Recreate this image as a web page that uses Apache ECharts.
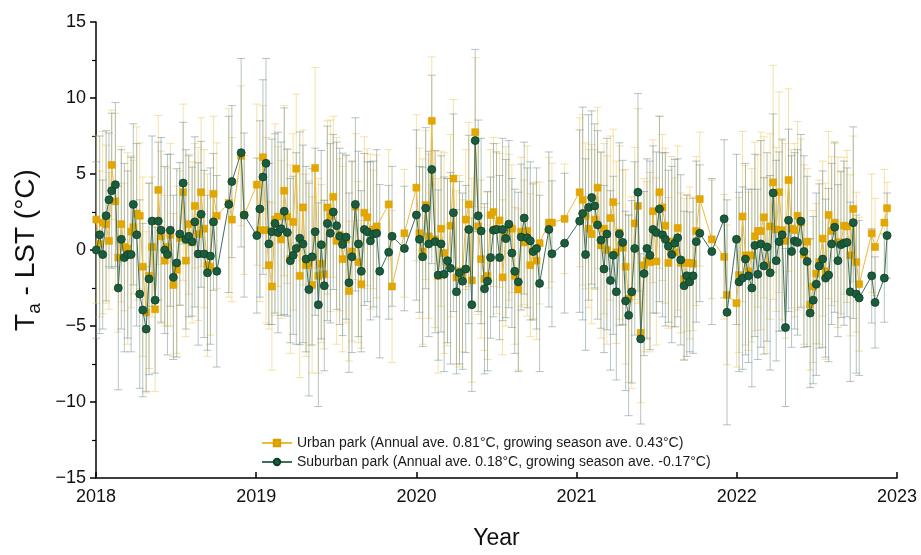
<!DOCTYPE html>
<html>
<head>
<meta charset="utf-8">
<script src="https://cdn.jsdelivr.net/npm/echarts@6/dist/echarts.min.js"></script>
<style>html,body{margin:0;padding:0;background:#fff}#c{width:921px;height:555px}</style>
</head>
<body>
<div id="c"></div>
<script>
// Observation dates (decimal years)
const dates = [
2018.002,2018.023,2018.042,2018.063,2018.081,2018.098,2018.121,2018.139,2018.158,2018.177,
2018.198,2018.219,2018.233,2018.254,2018.273,2018.292,2018.313,2018.331,2018.350,2018.369,
2018.389,2018.406,2018.429,2018.446,2018.464,2018.483,2018.504,2018.523,2018.544,2018.561,
2018.579,2018.600,2018.617,2018.638,2018.656,2018.675,2018.696,2018.714,2018.733,2018.754,
2018.829,2018.848,2018.906,2018.925,2019.004,2019.023,2019.042,2019.061,2019.079,2019.098,
2019.117,2019.136,2019.156,2019.175,2019.194,2019.213,2019.231,2019.250,2019.272,2019.292,
2019.311,2019.329,2019.349,2019.368,2019.388,2019.406,2019.425,2019.444,2019.463,2019.481,
2019.502,2019.521,2019.539,2019.561,2019.579,2019.598,2019.619,2019.638,2019.656,2019.675,
2019.694,2019.713,2019.731,2019.752,2019.771,2019.827,2019.848,2019.925,2020.000,2020.019,
2020.039,2020.058,2020.077,2020.096,2020.117,2020.136,2020.154,2020.173,2020.194,2020.213,
2020.231,2020.250,2020.269,2020.288,2020.308,2020.327,2020.346,2020.367,2020.386,2020.404,
2020.425,2020.444,2020.463,2020.481,2020.500,2020.519,2020.538,2020.558,2020.577,2020.596,
2020.614,2020.636,2020.654,2020.673,2020.692,2020.711,2020.729,2020.750,2020.769,2020.827,
2020.846,2020.925,2021.019,2021.038,2021.056,2021.075,2021.094,2021.113,2021.131,2021.152,
2021.171,2021.189,2021.211,2021.229,2021.248,2021.267,2021.288,2021.306,2021.325,2021.344,
2021.363,2021.383,2021.400,2021.421,2021.439,2021.458,2021.477,2021.498,2021.517,2021.536,
2021.554,2021.573,2021.594,2021.613,2021.631,2021.650,2021.671,2021.688,2021.706,2021.727,
2021.747,2021.769,2021.844,2021.921,2021.939,2021.998,2022.014,2022.036,2022.054,2022.073,
2022.094,2022.113,2022.131,2022.150,2022.169,2022.189,2022.208,2022.227,2022.246,2022.264,
2022.283,2022.304,2022.323,2022.342,2022.361,2022.379,2022.400,2022.419,2022.439,2022.458,
2022.477,2022.496,2022.514,2022.536,2022.554,2022.573,2022.592,2022.611,2022.631,2022.650,
2022.669,2022.688,2022.708,2022.727,2022.746,2022.764,2022.842,2022.863,2022.921,2022.938
];
// Urban park Ta - LST (°C)
const urban = [
2.0,0.4,1.8,1.7,0.6,5.6,3.2,-0.5,1.7,0.2,
0.1,1.2,1.5,2.4,2.25,-1.1,-4.1,-1.7,0.2,-3.9,
3.95,0.9,-0.7,0.2,1.0,-2.3,-1.3,0.8,3.8,-0.7,
1.7,0.5,2.9,1.05,3.8,1.4,-1.0,-1.1,3.7,2.25,
3.1,2.0,6.2,2.3,4.3,1.3,6.1,1.3,-1.0,-2.4,
2.0,2.2,0.7,3.9,2.2,-0.6,1.85,5.35,-1.7,2.8,
-1.0,-0.85,-2.3,5.4,-1.7,-0.9,-1.6,2.8,2.25,3.5,
0.6,1.0,-0.6,0.7,-2.7,-0.1,2.85,-0.8,-2.25,2.45,
2.15,1.2,1.35,1.55,null,3.0,-2.4,1.1,4.1,1.1,
-0.1,2.95,0.9,8.5,0.7,-1.7,1.4,-0.2,-0.8,1.6,
4.7,-1.8,-1.4,-1.7,2.0,3.0,-2.0,7.75,1.55,-0.6,
-1.9,-1.7,2.3,2.5,1.4,1.95,-1.8,0.9,1.5,1.4,
-1.7,-2.6,1.2,0.5,1.25,-1.0,-0.1,-0.7,0.45,1.8,
1.8,2.05,3.8,3.3,2.25,1.4,1.05,2.0,4.1,0.3,
1.4,0.0,2.1,3.15,-0.15,1.15,0.15,-1.1,-3.2,-2.8,
1.75,2.9,-5.45,-1.0,-0.7,-0.8,2.55,-0.75,3.8,2.8,
1.6,-0.85,0.55,-0.15,1.45,-0.85,-1.9,-0.85,-0.85,-0.9,
1.25,3.35,0.7,-0.45,-2.95,-3.5,-1.65,2.2,-0.35,-1.4,
-0.35,0.9,1.25,1.25,2.15,-1.0,1.55,4.45,1.35,3.8,
1.3,0.6,4.6,1.4,1.3,2.25,1.8,-0.3,0.55,-3.6,
-2.4,-1.55,-0.8,0.75,-1.4,2.3,1.25,1.8,0.5,0.5,
1.6,1.55,-0.35,2.7,-0.8,-2.25,1.1,0.2,1.8,2.75
];
// Suburban park Ta - LST (°C)
const suburban = [
0.0,1.0,-0.3,2.25,3.3,3.9,4.3,-2.5,0.7,-0.5,
-0.3,-0.3,3.0,1.0,-2.9,-3.95,-5.2,-1.9,1.9,-3.3,
1.9,1.3,0.0,-0.3,1.3,-1.8,-0.85,1.05,4.4,0.7,
0.9,0.55,1.85,-0.26,2.35,-0.26,-1.5,-0.4,1.85,-1.4,
3.0,4.5,6.4,2.3,0.95,2.7,4.8,5.7,0.4,1.2,
1.75,1.15,1.4,2.55,1.15,-0.7,-0.35,0.1,0.77,0.4,
-0.6,-2.6,-0.45,1.2,-3.6,0.35,-2.35,1.75,1.1,2.5,
1.6,0.9,0.37,0.85,-2.15,-0.45,3.0,0.4,-1.4,1.35,
1.2,0.6,1.05,1.1,-1.4,-0.15,0.9,0.1,2.3,0.7,
-0.45,2.75,0.4,5.3,0.55,-1.65,0.4,-1.6,-0.7,-1.2,
2.45,-2.75,-1.5,-2.05,-1.25,1.35,-3.6,7.2,2.25,1.25,
-2.55,-2.05,-0.5,1.3,1.35,-0.5,1.35,0.75,1.7,-0.2,
-1.4,-2.1,0.85,2.1,0.8,0.6,-0.1,0.1,-2.2,1.35,
-0.25,0.45,1.9,2.4,-0.3,2.8,3.45,2.9,1.65,0.65,
-1.25,1.05,-2.0,-0.35,-2.75,1.05,0.5,-3.35,-4.3,-2.75,
0.1,3.8,-5.85,-1.55,0.1,-0.35,1.35,1.15,2.7,1.0,
0.7,0.25,-0.3,0.45,0.8,-0.65,-2.35,-1.7,-2.1,-1.7,
0.55,1.1,-0.1,2.05,-4.1,0.7,-2.1,-1.85,-0.6,-1.7,
-2.5,0.3,-1.6,0.4,-1.05,0.2,-1.5,3.75,-0.7,0.55,
1.0,-5.1,1.95,-0.1,0.6,0.5,1.9,-0.1,-0.75,-4.15,
-3.3,-2.25,-1.05,-0.6,-1.85,-1.65,0.4,1.5,-0.7,0.35,
0.45,0.5,-2.75,1.8,-2.9,-3.15,-1.7,-3.45,-1.85,0.95
];
// Error bar half-lengths (°C)
const urbanErr = [
5.5,4.8,6.0,5.2,4.5,3.6,5.8,4.9,5.1,4.2,
6.3,5.0,4.4,5.7,4.8,5.9,5.3,6.1,4.6,5.4,
4.9,5.6,4.3,5.2,6.0,4.7,5.5,4.4,5.8,5.0,
4.6,5.3,4.1,5.7,4.9,5.2,6.0,4.5,5.1,4.8,
6.2,5.4,4.6,3.9,5.3,4.7,3.4,6.1,4.2,5.5,
6.3,4.6,5.2,5.6,4.4,6.2,5.8,4.9,6.7,5.1,
6.0,5.4,5.8,6.6,6.4,5.2,4.9,5.7,6.3,5.3,
6.8,5.0,6.1,5.5,4.6,5.9,4.8,5.3,4.2,5.0,
4.5,5.1,3.9,4.7,4.4,3.6,5.0,4.2,4.8,5.6,
6.1,4.9,5.4,4.2,5.8,6.4,5.1,6.6,5.5,6.0,
5.2,5.7,6.3,5.0,4.6,5.4,6.7,4.9,5.8,5.2,
4.7,5.5,4.3,4.9,5.6,4.4,5.1,5.9,4.8,4.2,
4.5,5.3,4.9,4.1,5.6,4.7,4.4,5.2,4.0,4.3,
3.9,3.6,4.9,5.6,4.8,5.2,5.9,4.6,5.3,6.1,
5.6,6.2,5.4,4.8,6.0,5.7,5.1,6.4,5.5,6.3,
5.0,6.4,4.6,5.7,5.2,5.9,4.7,5.5,5.0,4.8,
5.1,4.3,5.6,4.9,5.4,4.6,5.3,4.5,5.0,4.4,
4.9,4.4,3.9,4.1,4.6,4.2,5.1,5.6,5.9,5.2,
5.7,6.2,5.0,6.5,5.3,5.8,6.1,7.7,5.4,6.6,
5.9,6.4,6.0,5.2,5.7,6.2,5.5,5.9,4.8,4.3,
5.0,4.6,5.4,5.1,5.8,5.5,4.9,5.2,5.6,4.7,
4.5,5.0,5.3,4.8,4.6,4.4,3.9,3.2,3.5,1.7
];
const suburbanErr = [
5.8,6.5,4.9,5.6,4.4,5.1,5.4,6.7,5.9,6.2,
5.5,6.4,5.3,6.0,6.2,5.7,4.1,6.3,5.6,4.8,
5.2,6.1,5.5,6.6,5.0,5.4,6.2,4.7,4.0,5.9,
5.3,4.9,5.6,6.0,4.8,5.5,5.1,5.8,4.5,6.3,
5.8,5.0,6.2,5.4,5.1,5.8,6.4,6.9,5.3,6.1,
5.9,6.6,5.7,6.8,5.5,5.4,5.2,6.3,7.0,6.5,
6.1,7.0,5.8,5.5,6.7,6.2,5.6,6.4,5.9,5.1,
5.5,5.8,6.0,5.4,5.9,6.3,5.7,6.1,5.3,5.0,
4.6,5.2,4.8,5.5,5.7,4.4,4.6,4.1,5.6,4.8,
5.9,5.3,6.1,6.2,6.0,5.6,5.8,6.4,5.4,6.3,
6.5,5.4,6.0,5.8,5.5,6.2,5.7,6.0,6.3,6.1,
5.6,5.9,5.3,5.7,5.1,5.4,6.0,5.2,5.5,4.9,
5.4,5.9,4.8,5.0,4.6,5.2,4.5,5.3,5.8,5.1,
4.8,4.6,6.0,7.0,6.3,6.1,5.7,5.4,6.2,5.8,
5.5,6.3,5.9,5.2,5.8,6.0,5.4,5.9,6.6,6.0,
5.7,6.5,5.6,5.4,5.9,6.2,5.5,5.3,6.1,5.4,
5.7,5.0,5.8,5.5,5.2,5.6,4.9,5.3,4.6,5.1,
5.3,4.5,4.8,5.2,7.4,5.6,5.9,6.0,6.3,5.7,
6.5,6.0,5.6,6.8,5.8,6.2,6.4,5.2,6.6,5.9,
6.3,5.2,6.0,6.3,5.8,6.1,5.7,6.3,5.6,4.9,
5.5,6.0,5.4,5.8,5.2,5.7,5.3,5.6,5.0,4.8,
5.4,4.9,5.9,6.3,5.2,5.1,3.1,3.0,2.9,2.8
];
const yTicks = [-15,-10,-5,0,5,10,15];
const xYears = [2018,2019,2020,2021,2022,2023];
const urbanName = 'Urban park (Annual ave. 0.81°C, growing season ave. 0.43°C)';
const suburbanName = 'Suburban park (Annual ave. 0.18°C, growing season ave. -0.17°C)';

const FONT = '"Liberation Sans", Arial, Helvetica, sans-serif';

function lineData(vals){
  const out = [];
  dates.forEach((d,i)=>{ if (vals[i] !== null && vals[i] !== undefined) out.push([d, vals[i]]); });
  return out;
}
function errData(vals, errs){
  const out = [];
  dates.forEach((d,i)=>{ if (vals[i] !== null && vals[i] !== undefined) out.push([d, vals[i]-errs[i], vals[i]+errs[i]]); });
  return out;
}
function errRender(color){
  return function(params, api){
    const x = api.value(0);
    const lo = api.coord([x, api.value(1)]);
    const hi = api.coord([x, api.value(2)]);
    const w = 4;
    const st = {stroke: color, lineWidth: 1};
    return {type:'group', children:[
      {type:'line', shape:{x1:lo[0], y1:lo[1], x2:hi[0], y2:hi[1]}, style:st},
      {type:'line', shape:{x1:lo[0]-w, y1:lo[1], x2:lo[0]+w, y2:lo[1]}, style:st},
      {type:'line', shape:{x1:hi[0]-w, y1:hi[1], x2:hi[0]+w, y2:hi[1]}, style:st}
    ]};
  };
}

const chart = echarts.init(document.getElementById('c'), null, {renderer:'canvas'});
chart.setOption({
  animation:false,
  backgroundColor:'#fff',
  textStyle:{fontFamily:FONT},
  grid:{left:96, right:24, top:22, bottom:75, containLabel:false},
  legend:{
    orient:'vertical', left:256, top:431, itemGap:5, itemWidth:30, itemHeight:8,
    textStyle:{fontSize:14, color:'#1a1a1a', fontFamily:FONT},
    data:[urbanName, suburbanName]
  },
  xAxis:{
    type:'value', min:xYears[0], max:xYears[xYears.length-1], interval:1,
    name:'Year', nameLocation:'middle', nameGap:49,
    nameTextStyle:{fontSize:23, color:'#111', fontFamily:FONT},
    axisLine:{onZero:false, lineStyle:{color:'#000', width:1.5}},
    axisTick:{inside:true, length:6, lineStyle:{color:'#000', width:1.5}},
    axisLabel:{fontSize:18, color:'#111', margin:10, formatter:v=>String(v)},
    splitLine:{show:false}
  },
  yAxis:{
    type:'value', min:yTicks[0], max:yTicks[yTicks.length-1], interval:5,
    name:'{t|T}{s|a}{t| - LST (°C)}', nameLocation:'middle', nameGap:44, nameRotate:90,
    nameTextStyle:{color:'#111', fontFamily:FONT,
      rich:{t:{fontSize:28, color:'#111', fontFamily:FONT, lineHeight:37},
            s:{fontSize:19, color:'#111', fontFamily:FONT, lineHeight:19, verticalAlign:'bottom'}}},
    axisLine:{onZero:false, lineStyle:{color:'#000', width:1.5}},
    axisTick:{inside:false, length:6, lineStyle:{color:'#000', width:1.5}},
    minorTick:{show:true, splitNumber:2, length:4, lineStyle:{color:'#000', width:1.2}},
    axisLabel:{fontSize:18, color:'#111', margin:10,
      formatter:v=> v<0 ? '\u2212'+Math.abs(v) : String(v)},
    splitLine:{show:false}
  },
  series:[
    {type:'custom', name:'urbanErr', renderItem:errRender('rgba(240,205,110,0.6)'),
     data:errData(urban, urbanErr), encode:{x:0, y:[1,2]}, z:1, silent:true},
    {type:'custom', name:'suburbanErr', renderItem:errRender('rgba(120,150,145,0.55)'),
     data:errData(suburban, suburbanErr), encode:{x:0, y:[1,2]}, z:1, silent:true},
    {type:'line', name:urbanName, data:lineData(urban), z:3,
     symbol:'rect', symbolSize:7, showAllSymbol:true,
     lineStyle:{color:'#EDBB3A', width:1},
     itemStyle:{color:'#E3A700', borderColor:'#D89E00', borderWidth:0.5}},
    {type:'line', name:suburbanName, data:lineData(suburban), z:4,
     symbol:'circle', symbolSize:8, showAllSymbol:true,
     lineStyle:{color:'#3E6F5E', width:1},
     itemStyle:{color:'#1B5C3C', borderColor:'#0F3F28', borderWidth:0.8}}
  ]
});
</script>
</body>
</html>
